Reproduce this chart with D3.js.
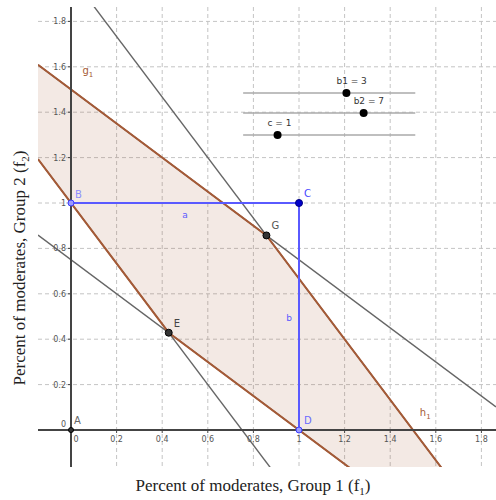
<!DOCTYPE html>
<html>
<head>
<meta charset="utf-8">
<script src="https://cdn.jsdelivr.net/npm/d3@7"></script>
<style>
  body { margin: 0; background: #fff; }
  svg { display: block; }
</style>
</head>
<body>
<div id="chart"></div>
<script>
// tick values on both axes
var xTicks = [0, 0.2, 0.4, 0.6, 0.8, 1, 1.2, 1.4, 1.6, 1.8];
var yTicks = [0, 0.2, 0.4, 0.6, 0.8, 1, 1.2, 1.4, 1.6, 1.8];

// the four constraint lines, f2 = intercept + slope * f1
var lineNames = ["L1", "L2", "L3", "L4"];
var lineIntercepts = [1.5, 2, 0.75, 1];
var lineSlopes = [-0.75, -4 / 3, -0.75, -4 / 3];

// named points
var pointNames = ["A", "B", "C", "D", "E", "G"];
var pointX = [0, 0, 1, 1, 3 / 7, 6 / 7];
var pointY = [0, 1, 1, 0, 3 / 7, 6 / 7];

// sliders
var sliderNames = ["b1", "b2", "c"];
var sliderValues = [3, 7, 1];
var sliderMax = [5, 10, 5];

var W = 496, H = 500;
var view = {left: 38, right: 496, top: 7, bottom: 467};

var svg = d3.select("#chart").append("svg")
  .attr("width", W).attr("height", H)
  .style("font-family", "'DejaVu Sans', sans-serif");

var x = d3.scaleLinear().domain([0, 1]).range([71, 299]);
var y = d3.scaleLinear().domain([0, 1]).range([430, 203]);

svg.append("clipPath").attr("id", "view")
  .append("rect")
  .attr("x", view.left).attr("y", view.top)
  .attr("width", view.right - view.left).attr("height", view.bottom - view.top);

var g = svg.append("g").attr("clip-path", "url(#view)");

//grid
g.selectAll(".vgrid").data(xTicks.filter(function (d) { return d != 0; }))
  .enter().append("line")
  .attr("x1", function (d) { return x(d); }).attr("x2", function (d) { return x(d); })
  .attr("y1", view.top).attr("y2", view.bottom)
  .attr("stroke", "#c4c4c4").attr("stroke-dasharray", "4,3");
g.selectAll(".hgrid").data(yTicks.filter(function (d) { return d != 0; }))
  .enter().append("line")
  .attr("y1", function (d) { return y(d); }).attr("y2", function (d) { return y(d); })
  .attr("x1", view.left).attr("x2", view.right)
  .attr("stroke", "#c4c4c4").attr("stroke-dasharray", "4,3");

var xmin = x.invert(view.left), xmax = x.invert(view.right);
function lineY(i, f1) { return lineIntercepts[i] + lineSlopes[i] * f1; }

var G = [pointX[5], pointY[5]], E = [pointX[4], pointY[4]];
var upper = [[xmin, lineY(0, xmin)], G, [xmax, lineY(1, xmax)]];
var lower = [[xmin, lineY(3, xmin)], E, [xmax, lineY(2, xmax)]];

var path = d3.line().x(function (d) { return x(d[0]); }).y(function (d) { return y(d[1]); });

// shaded feasible region
g.append("path")
  .attr("d", path(upper.concat(lower.slice().reverse())) + "Z")
  .attr("fill", "#a0522d").attr("fill-opacity", 0.13);

// full grey lines
lineNames.forEach(function (n, i) {
  g.append("line")
    .attr("x1", x(xmin)).attr("y1", y(lineY(i, xmin)))
    .attr("x2", x(xmax)).attr("y2", y(lineY(i, xmax)))
    .attr("stroke", "#666").attr("stroke-width", 1.4);
});

// brown boundaries
[upper, lower].forEach(function (pts) {
  g.append("path").attr("d", path(pts))
    .attr("fill", "none").attr("stroke", "#a55a36").attr("stroke-width", 2);
});

// axes
g.append("line").attr("x1", view.left).attr("x2", view.right)
  .attr("y1", y(0)).attr("y2", y(0)).attr("stroke", "#444").attr("stroke-width", 2);
g.append("line").attr("x1", x(0)).attr("x2", x(0))
  .attr("y1", view.top).attr("y2", view.bottom).attr("stroke", "#444").attr("stroke-width", 2);

g.selectAll(".xt").data(xTicks.filter(function (d) { return d != 0; }))
  .enter().append("line")
  .attr("x1", function (d) { return x(d); }).attr("x2", function (d) { return x(d); })
  .attr("y1", y(0)).attr("y2", y(0) + 3).attr("stroke", "#444");
g.selectAll(".yt").data(yTicks.filter(function (d) { return d != 0; }))
  .enter().append("line")
  .attr("y1", function (d) { return y(d); }).attr("y2", function (d) { return y(d); })
  .attr("x1", x(0) - 3).attr("x2", x(0)).attr("stroke", "#444");

var fmt = function (d) { return d3.format("~g")(d); };
g.selectAll(".xl").data(xTicks).enter().append("text")
  .attr("x", function (d) { return d == 0 ? x(d) + 5 : x(d); })
  .attr("y", y(0) + 12)
  .attr("text-anchor", "middle")
  .attr("font-size", 8).attr("fill", "#555")
  .text(fmt);
g.selectAll(".yl").data(yTicks).enter().append("text")
  .attr("x", x(0) - 5)
  .attr("y", function (d) { return d == 0 ? y(d) - 3 : y(d) + 3; })
  .attr("text-anchor", "end")
  .attr("font-size", 8).attr("fill", "#555")
  .text(fmt);

// blue segments a and b
var blue = "#5a5aff";
g.append("path").attr("d", path([[0, 1], [1, 1], [1, 0]]))
  .attr("fill", "none").attr("stroke", blue).attr("stroke-width", 2);
g.append("text").attr("x", x(0.5)).attr("y", y(1) + 15)
  .attr("font-size", 9).attr("fill", blue).attr("text-anchor", "middle").text("a");
g.append("text").attr("x", x(1) - 10).attr("y", y(0.5) + 4)
  .attr("font-size", 9).attr("fill", blue).attr("text-anchor", "middle").text("b");

// points
var ptStyle = {
  A: {fill: "#333", stroke: "#000", r: 2.5, label: "#666", dx: 3, dy: -6},
  B: {fill: "#9a9aff", stroke: "#3c3cff", r: 3, label: "#8c8cff", dx: 4, dy: -5},
  C: {fill: "#0000cc", stroke: "#000080", r: 3.5, label: "#4848ff", dx: 5, dy: -6},
  D: {fill: "#9a9aff", stroke: "#3c3cff", r: 3, label: "#6a6aff", dx: 5, dy: -6},
  E: {fill: "#333", stroke: "#000", r: 3.5, label: "#444", dx: 5, dy: -6},
  G: {fill: "#333", stroke: "#000", r: 3.5, label: "#555", dx: 5, dy: -6}
};
pointNames.forEach(function (n, i) {
  var s = ptStyle[n];
  g.append("circle").attr("cx", x(pointX[i])).attr("cy", y(pointY[i]))
    .attr("r", s.r).attr("fill", s.fill).attr("stroke", s.stroke).attr("stroke-width", 1);
  g.append("text").attr("x", x(pointX[i]) + s.dx).attr("y", y(pointY[i]) + s.dy)
    .attr("font-size", 10).attr("fill", s.label).text(n);
});

// line labels g1 and h1
function subLabel(tx, ty, base) {
  var t = g.append("text").attr("x", tx).attr("y", ty)
    .attr("font-size", 10).attr("fill", "#a55a36");
  t.append("tspan").text(base);
  t.append("tspan").attr("font-size", 7).attr("dy", 3).text("1");
}
subLabel(x(0.05), y(1.57), "g");
subLabel(x(1.53), y(0.06), "h");

// sliders
var sliderLeft = x(0.755), sliderRight = x(1.51);
var sliderY = [1.485, 1.397, 1.3];
sliderNames.forEach(function (n, i) {
  var sy = y(sliderY[i]);
  var sx = sliderLeft + (sliderRight - sliderLeft) * sliderValues[i] / sliderMax[i];
  svg.append("line").attr("x1", sliderLeft).attr("x2", sliderRight)
    .attr("y1", sy).attr("y2", sy).attr("stroke", "#aaa").attr("stroke-width", 1.5);
  svg.append("circle").attr("cx", sx).attr("cy", sy).attr("r", 4).attr("fill", "#000");
  svg.append("text").attr("x", sx - 10).attr("y", sy - 9)
    .attr("font-size", 9).attr("fill", "#333").text(n + " = " + sliderValues[i]);
});

// axis titles
var serif = "'Liberation Serif', 'Times New Roman', serif";
var xt = svg.append("text").attr("x", 253).attr("y", 491)
  .attr("text-anchor", "middle").attr("font-family", serif)
  .attr("font-size", 17).attr("fill", "#222");
xt.append("tspan").text("Percent of moderates, Group 1 (f");
xt.append("tspan").attr("font-size", 11).attr("dy", 4).text("1");
xt.append("tspan").attr("dy", -4).text(")");

var yt = svg.append("text")
  .attr("transform", "translate(25,268) rotate(-90)")
  .attr("text-anchor", "middle").attr("font-family", serif)
  .attr("font-size", 17).attr("fill", "#222");
yt.append("tspan").text("Percent of moderates, Group 2 (f");
yt.append("tspan").attr("font-size", 11).attr("dy", 4).text("2");
yt.append("tspan").attr("dy", -4).text(")");
</script>
</body>
</html>
